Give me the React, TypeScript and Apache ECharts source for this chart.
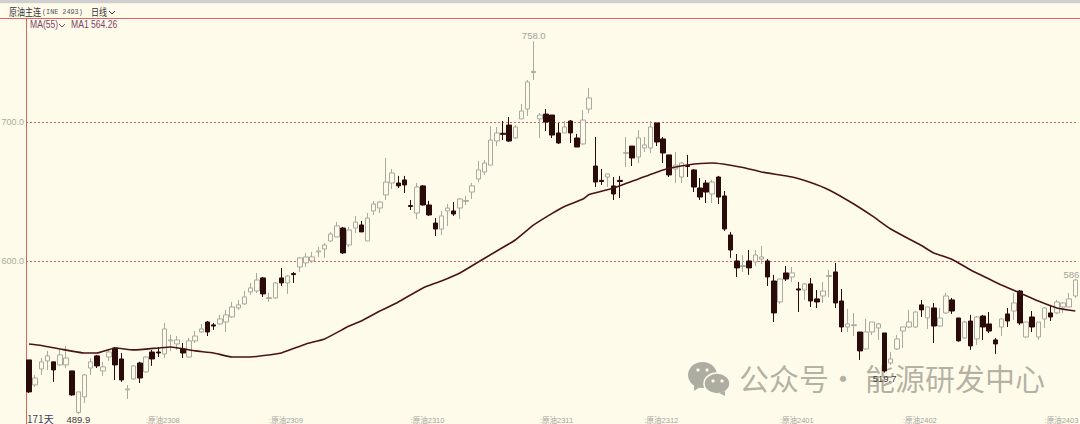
import React, { useEffect, useRef } from "react";
import * as echarts from "echarts";

// [open, close, low, high]
const ohlc: number[][] = [
[528.8,505.8,505.0,528.8],[510.8,515.8,509.4,518.0],[522.3,527.4,518.0,530.2],[528.1,531.7,521.6,535.3],[527.4,521.6,513.0,527.4],
[525.2,532.4,524.5,536.0],[525.2,530.2,523.0,538.9],[520.9,503.6,503.0,520.9],[491.0,505.8,489.9,505.8],[502.2,518.0,497.8,518.7],
[523.0,527.4,518.0,530.2],[531.7,524.5,523.0,532.4],[520.9,523.8,517.3,527.4],[530.9,534.5,528.1,536.7],[537.4,525.2,514.4,538.1],
[529.5,514.4,513.0,533.8],[507.2,507.9,500.7,510.8],[515.1,524.5,514.4,525.2],[526.6,515.8,512.2,527.4],[520.2,530.9,519.5,531.7],
[534.5,529.5,524.5,536.0],[534.5,533.8,530.9,538.1],[533.1,551.1,530.2,555.4],[542.5,543.2,535.3,546.8],[540.3,543.2,536.0,546.0],
[536.7,533.8,530.2,541.0],[530.9,542.5,530.2,544.6],[542.5,546.0,541.0,549.6],[548.9,551.1,548.2,554.7],[556.1,548.9,546.0,556.8],
[554.0,553.2,550.4,555.4],[554.7,558.3,554.0,561.2],[556.1,561.2,548.9,564.8],[559.7,566.9,559.0,570.5],[566.2,568.4,564.8,572.0],
[569.1,574.1,568.4,578.4],[577.7,580.6,575.5,584.2],[578.4,586.3,577.0,591.4],[587.8,576.3,574.1,588.5],[573.0,573.6,570.5,577.0],
[573.4,584.2,572.7,584.9],[587.8,584.2,582.0,595.0],[584.2,589.2,576.3,589.9],[590.9,590.2,584.2,592.1],[595.7,602.2,592.1,602.9],
[598.6,602.9,595.7,605.8],[600.0,602.9,598.6,606.5],[606.5,607.2,602.9,610.1],[608.6,611.5,602.2,613.0],[614.4,619.4,613.7,620.9],
[617.3,625.2,617.3,628.0],[623.7,605.8,605.0,624.5],[611.5,622.3,610.1,624.5],[623.7,628.0,620.1,632.4],[625.9,620.9,620.9,628.8],
[614.4,630.9,614.4,634.5],[636.0,641.0,633.1,643.2],[638.1,642.4,634.5,643.2],[647.5,656.8,643.9,674.1],[656.1,663.3,651.8,666.2],
[656.1,654.0,652.5,661.2],[658.3,654.7,648.9,661.2],[639.9,639.2,636.7,643.9],[634.5,653.2,630.2,656.1],[654.0,640.3,639.9,654.7],
[640.3,633.1,632.4,643.2],[627.3,623.0,618.0,630.9],[623.0,632.4,618.7,636.0],[636.0,638.1,625.2,641.0],[636.0,633.8,632.4,642.4],
[638.1,644.6,630.2,645.3],[642.9,643.5,640.3,646.8],[649.6,654.0,644.6,656.1],[659.0,665.5,656.8,672.0],[664.0,670.5,661.9,672.7],
[669.0,687.0,669.0,697.1],[686.3,692.1,682.7,696.4],[691.9,691.1,687.0,700.7],[697.8,686.3,685.6,703.6],[688.5,696.4,687.8,697.8],
[702.2,707.9,702.2,713.0],[709.3,728.8,704.3,730.2],[735.6,736.4,730.2,758.0],[702.2,705.0,688.5,706.5],[705.7,700.0,693.5,709.3],
[705.0,690.6,688.5,705.0],[692.1,684.9,684.2,699.3],[692.1,696.4,692.1,700.7],[700.7,692.1,684.9,701.4],[688.5,682.0,682.0,691.4],
[684.2,701.4,683.5,708.6],[709.3,717.3,706.5,724.5],[668.3,656.8,653.2,689.2],[658.0,657.2,654.7,666.2],[660.4,662.6,653.2,662.6],
[654.0,648.2,643.9,660.4],[658.0,657.2,645.3,661.2],[677.4,678.0,667.6,689.2],[682.7,674.1,668.3,682.7],[674.8,688.5,670.5,694.2],
[681.3,683.5,678.4,689.2],[681.3,696.4,677.7,700.7],[699.3,685.6,682.7,699.3],[687.8,677.7,670.5,689.2],[676.3,661.9,660.4,676.3],
[666.2,669.0,656.1,678.4],[660.4,670.5,656.1,671.2],[668.7,668.0,660.4,676.3],[665.5,653.2,649.6,666.2],[652.5,646.0,643.9,659.7],
[656.1,649.6,641.7,658.3],[648.2,656.8,641.7,658.3],[660.4,646.0,641.0,661.2],[646.8,623.0,621.6,650.4],[618.7,607.9,602.2,620.9],
[600.0,595.0,588.5,605.0],[596.0,596.7,592.1,604.3],[600.0,595.0,590.0,607.9],[599.3,604.3,596.4,607.9],[601.4,602.9,597.8,610.8],
[600.0,588.5,582.0,601.4],[585.6,562.6,556.1,590.0],[570.5,587.0,569.1,587.0],[591.4,587.0,585.6,596.4],[588.5,591.4,584.9,595.7],
[579.9,579.1,563.3,584.9],[579.1,583.5,572.0,584.2],[583.5,571.2,566.9,587.8],[572.7,570.5,566.2,579.1],[574.8,578.4,569.8,584.9],
[588.9,589.5,574.1,593.5],[592.1,569.8,566.2,598.6],[571.2,552.5,548.9,579.9],[552.5,554.7,548.9,565.5],[553.5,554.1,546.0,562.6],
[548.9,535.3,528.8,548.9],[536.7,548.9,536.0,558.3],[548.9,556.1,546.7,556.1],[551.8,554.7,543.2,555.4],[548.2,520.9,519.7,548.2],
[526.6,529.5,525.2,534.5],[536.7,543.9,536.0,546.8],[549.6,552.5,537.4,552.5],[552.5,556.1,551.8,564.8],[552.5,563.3,551.8,564.0],
[568.4,564.8,559.7,572.0],[559.0,566.9,551.1,566.9],[566.2,553.2,541.0,569.8],[553.2,559.0,552.5,566.2],[562.6,574.8,561.9,577.0],
[572.0,564.0,561.9,573.4],[559.0,542.5,542.0,559.0],[544.6,556.1,544.0,556.8],[556.8,538.9,536.0,561.2],[543.9,559.7,539.6,560.4],
[560.4,552.5,543.2,561.2],[554.7,549.6,548.2,563.3],[543.2,540.3,533.1,544.6],[552.5,558.3,546.0,559.0],[561.9,556.8,552.5,566.2],
[564.0,569.8,557.6,577.0],[578.4,555.4,554.0,579.1],[545.3,556.1,544.6,556.1],[559.7,552.5,548.9,564.0],[545.3,556.1,543.2,556.1],
[558.3,566.2,551.8,566.9],[562.6,559.7,556.8,568.4],[562.6,570.5,561.9,572.0],[566.9,569.8,562.6,570.5],[566.9,572.7,566.9,577.0],
[574.8,586.3,573.4,587.0],
];

// MA(55), read at these candle positions
const maIndex = [0,2,5,9,11,14,17,21,23,27,30,33,36,39,41,45,48,52,54,57,60,64,67,70,73,76,79,82,85,87,90,91,95,99,103,107,111,116,119,124,127,130,134,137,140,143,145,147,150,153,156,158,161,164,167,170];
const maValues = [540.3,539.2,536.7,533.8,533.8,537.4,536.0,537.4,538.1,535.3,533.8,530.9,530.9,532.4,533.8,540.3,543.9,553.2,556.8,564.0,570.5,580.6,585.6,591.4,599.3,607.2,615.1,625.9,634.2,639.2,644.6,647.8,652.5,659.0,665.5,669.1,670.5,667.3,664.0,660.4,656.5,651.1,641.0,632.4,623.0,615.8,611.1,605.8,601.1,593.5,587.0,582.7,577.0,571.2,566.2,564.0];

const monthMarks: Record<number, string> = {19:":原油2308",39:":原油2309",62:":原油2310",83:":原油2311",100:":原油2312",122:":原油2401",142:":原油2402",165:":原油2403"};
const categories = ohlc.map((_, i) => monthMarks[i] ?? "");
const extremes: [number, number, string, string][] = [
  [82, 758.0, "#a3a39a", "top"],
  [170, 586.3, "#a3a39a", "top"],
  [139, 519.7, "#4a3a3a", "bottom"],
  [8, 489.9, "#4a3a3a", "bottom"],
];
const BG = "#fffbeb";
const MARK = "rgba(75,72,62,0.42)";
const ICON = "#aeada2";
const FONT = "'Liberation Sans','Noto Sans CJK SC',sans-serif";
const chevron = (x: number, y: number, color: string) => ({
  type: "polyline", silent: true,
  shape: { points: [[x, y], [x + 3, y + 3], [x + 6, y]] },
  style: { stroke: color, lineWidth: 1, fill: "none" },
});
const squeezed = (text: string, x: number, y: number, fill: string, font: string, scaleX: number) => ({
  type: "text", silent: true, x, y, scaleX, style: { text, fill, font },
});

export default function App() {
  const ref = useRef<HTMLDivElement>(null);
  useEffect(() => {
    document.body.style.margin = "0";
    const chart = echarts.init(ref.current!, null, { renderer: "svg" });
    chart.setOption({
      animation: false,
      backgroundColor: BG,
      grid: { left: 26, right: 1.6, top: 19, bottom: 0, outerBoundsMode: "none" },
      xAxis: {
        type: "category", data: categories, boundaryGap: true,
        axisLine: { show: false }, axisTick: { show: false }, splitLine: { show: false },
        axisLabel: { inside: true, interval: 0, align: "left", margin: 0, color: "#a5a59b", fontSize: 7.5, fontFamily: FONT, hideOverlap: false },
      },
      yAxis: {
        type: "value", min: 482.7, max: 774.1, scale: true,
        axisLine: { show: false },
        axisTick: { show: false, customValues: [600, 700] },
        axisLabel: { customValues: [600, 700], formatter: (v: number) => v.toFixed(1), color: "#a8a8a0", fontSize: 9, margin: 2, fontFamily: FONT },
        splitLine: { show: true, lineStyle: { color: "#d9605a", type: [2, 2], width: 1 } },
      },
      series: [
        {
          type: "candlestick", data: ohlc, barWidth: 5,
          itemStyle: { color: BG, color0: "#2b0a0a", borderColor: "#a9a9a0", borderColor0: "#2b0a0a", borderWidth: 1 },
          markPoint: {
            symbol: "circle", symbolSize: 0,
            data: extremes.map(([i, v, c, pos]) => ({
              coord: [i, v], value: v,
              label: { show: true, formatter: v.toFixed(1), color: c, fontSize: 9.5, fontFamily: FONT, position: pos, distance: 1 },
            })),
          },
        },
        {
          type: "line", data: maIndex.map((idx, i) => [idx, maValues[i]]),
          showSymbol: false, symbol: "none", smooth: 0.15,
          lineStyle: { color: "#4a1318", width: 1.6 },
        },
      ],
      graphic: [
        { type: "rect", silent: true, shape: { x: 0, y: 0, width: 1080, height: 3.5 }, style: { fill: "#cfcfcf" } },
        { type: "rect", silent: true, shape: { x: 0, y: 3.5, width: 1080, height: 14 }, style: { fill: BG } },
        { type: "line", silent: true, shape: { x1: 0, y1: 18.5, x2: 1080, y2: 18.5 }, style: { stroke: "#e0645c", lineWidth: 1 } },
        { type: "line", silent: true, shape: { x1: 26.5, y1: 18, x2: 26.5, y2: 424 }, style: { stroke: "#e0645c", lineWidth: 1 } },
        squeezed("原油主连", 9, 7, "#333", "10px 'Noto Sans CJK SC'", 0.8),
        squeezed("(INE 2493)", 42, 8, "#555", "8px 'Liberation Mono'", 0.85),
        squeezed("日线", 91, 7, "#333", "10px 'Noto Sans CJK SC'", 0.8),
        chevron(109, 11, "#333"),
        squeezed("MA(55)", 30, 19.5, "#7a4468", "10px 'Liberation Sans'", 0.86),
        chevron(59, 24, "#7a4468"),
        squeezed("MA1 564.26", 71, 19.5, "#7a4468", "10px 'Liberation Sans'", 0.86),
        { type: "text", silent: true, x: 27, y: 413, style: { text: "171天", fill: "#3b3b66", font: "10px 'Noto Sans CJK SC'" } },
        // watermark: speech bubbles
        { type: "ellipse", silent: true, shape: { cx: 702.5, cy: 375, rx: 14.5, ry: 13 }, style: { fill: ICON } },
        { type: "polygon", silent: true, shape: { points: [[694, 384], [700, 387], [694, 391]] }, style: { fill: ICON } },
        { type: "ellipse", silent: true, shape: { cx: 717, cy: 383.5, rx: 13, ry: 10.5 }, style: { fill: ICON, stroke: BG, lineWidth: 1.5 } },
        { type: "polygon", silent: true, shape: { points: [[719, 393], [725, 391], [725, 396]] }, style: { fill: ICON } },
        ...[[698, 370], [707, 370], [713, 381], [722, 381]].map(([cx, cy]) => ({
          type: "circle", silent: true, shape: { cx, cy, r: 1.6 }, style: { fill: BG },
        })),
        { type: "text", silent: true, x: 739, y: 362, style: { text: "公众号", fill: MARK, font: "30px 'Noto Sans CJK SC'" } },
        { type: "text", silent: true, x: 828, y: 362, style: { text: "·", fill: MARK, font: "30px 'Noto Sans CJK SC'" } },
        { type: "text", silent: true, x: 865, y: 362, style: { text: "能源研发中心", fill: MARK, font: "30px 'Noto Sans CJK SC'" } },
      ],
    });
    return () => chart.dispose();
  }, []);
  return <div ref={ref} style={{ width: 1080, height: 424, overflow: "hidden" }} />;
}
